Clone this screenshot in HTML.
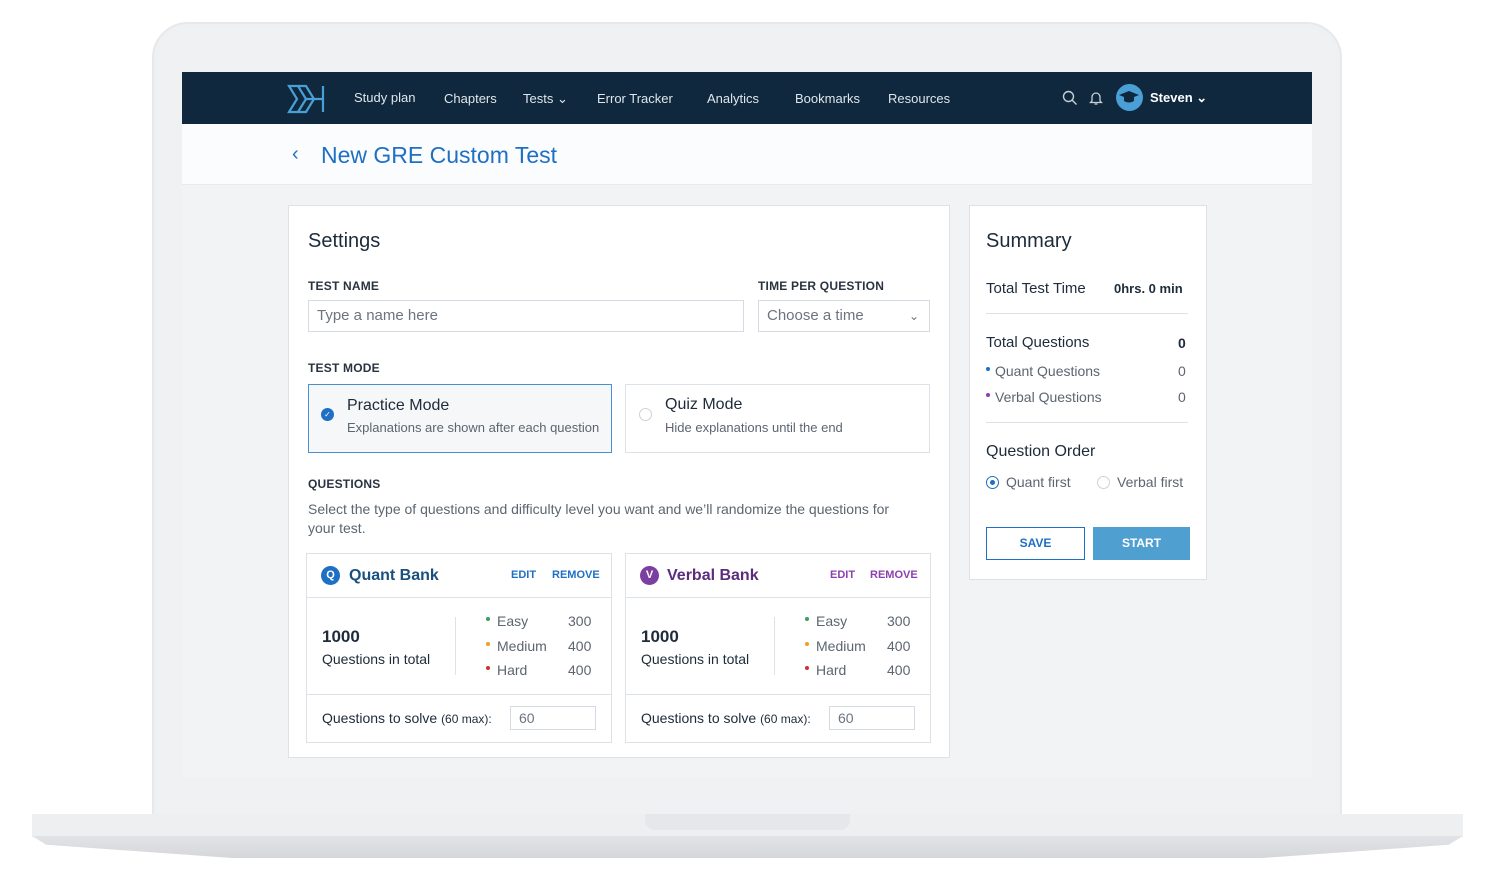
<!DOCTYPE html>
<html><head><meta charset="utf-8"><style>
*{margin:0;padding:0;box-sizing:border-box}
body{width:1500px;height:888px;background:#fff;position:relative;overflow:hidden;font-family:"Liberation Sans",sans-serif;color:#1d2b3a}
.a{position:absolute}
.lbl{font-size:12px;font-weight:bold;color:#2a3440;letter-spacing:.2px}
.inp{border:1px solid #d5dbe2;background:#fff;font-size:15px;color:#6b7480;padding-left:8px;line-height:30px}
.card{background:#fff;border:1px solid #dde2e8}
.gray{color:#5c6570}
.dot{display:inline-block;width:4px;height:4px;border-radius:50%;margin-right:7px;vertical-align:middle;position:relative;top:-3px}
</style></head><body>
<div class="a" style="left:152px;top:22px;width:1190px;height:800px;border-radius:36px 36px 0 0;background:#eef0f2;border:2px solid #e6e8eb"></div>
<div class="a" style="left:158px;top:28px;width:1178px;height:790px;border-radius:30px 30px 0 0;background:#f0f1f3"></div>
<div class="a" style="left:32px;top:814px;width:1431px;height:23px;background:#eeeff1"></div>
<div class="a" style="left:32px;top:836px;width:1431px;height:22px;background:linear-gradient(#e2e3e6,#d6d7da);clip-path:polygon(0 0,100% 0,99% 40%,86% 100%,14% 100%,1% 40%)"></div>
<div class="a" style="left:645px;top:814px;width:205px;height:16px;background:#e6e7ea;border-radius:0 0 10px 10px"></div>
<div class="a" style="left:182px;top:72px;width:1130px;height:705px;background:#f2f3f5"></div>
<div class="a" style="left:182px;top:72px;width:1130px;height:52px;background:#0f283d"></div>
<svg class="a" style="left:287px;top:84px" width="40" height="30" viewBox="0 0 40 30"><g fill="none" stroke="#4aa0d6" stroke-width="2.2"><path d="M2 2h9l8 13-8 13H2l8-13z"/><path d="M11 2h8l8 13-8 13h-8"/><path d="M19 15h17M36 2v26"/></g></svg>
<div class="a" style="left:354px;top:90px;font-size:13px;color:#dfe6ec">Study plan</div>
<div class="a" style="left:444px;top:91px;font-size:13px;color:#dfe6ec">Chapters</div>
<div class="a" style="left:523px;top:91px;font-size:13px;color:#dfe6ec">Tests &#8964;</div>
<div class="a" style="left:597px;top:91px;font-size:13px;color:#dfe6ec">Error Tracker</div>
<div class="a" style="left:707px;top:91px;font-size:13px;color:#dfe6ec">Analytics</div>
<div class="a" style="left:795px;top:91px;font-size:13px;color:#dfe6ec">Bookmarks</div>
<div class="a" style="left:888px;top:91px;font-size:13px;color:#dfe6ec">Resources</div>
<svg class="a" style="left:1062px;top:90px" width="16" height="16"><circle cx="6.5" cy="6.5" r="5" fill="none" stroke="#c6cfd7" stroke-width="1.4"/><path d="M10 10l4.5 4.5" stroke="#c6cfd7" stroke-width="1.4"/></svg>
<svg class="a" style="left:1089px;top:90px" width="14" height="16"><path d="M3 11V7a4 4 0 018 0v4l1.5 1.5h-11z" fill="none" stroke="#c6cfd7" stroke-width="1.3"/><path d="M5.5 14h3" stroke="#c6cfd7" stroke-width="1.3"/></svg>
<div class="a" style="left:1116px;top:84px;width:27px;height:27px;border-radius:50%;background:#4aa0d6"></div>
<svg class="a" style="left:1118px;top:89px" width="22" height="18"><path d="M1 6l10-4 10 4-10 4z" fill="#0f283d"/><path d="M6 8v4c3 2 7 2 10 0V8" fill="#0f283d"/></svg>
<div class="a" style="left:1150px;top:90px;font-size:13px;font-weight:bold;color:#fff">Steven &#8964;</div>
<div class="a" style="left:182px;top:124px;width:1130px;height:61px;background:#fbfcfd;border-bottom:1px solid #e8ebee"></div>
<div class="a" style="left:292px;top:143px;font-size:20px;color:#1f6fc4">&#8249;</div>
<div class="a" style="left:321px;top:142px;font-size:23px;color:#1f6fc4">New GRE Custom Test</div>
<div class="a card" style="left:288px;top:205px;width:662px;height:553px"></div>
<div class="a" style="left:308px;top:230px;font-size:20px">Settings</div>
<div class="a lbl" style="left:308px;top:279px">TEST NAME</div>
<div class="a inp" style="left:308px;top:300px;width:436px;height:32px">Type a name here</div>
<div class="a lbl" style="left:758px;top:279px">TIME PER QUESTION</div>
<div class="a inp" style="left:758px;top:300px;width:172px;height:32px">Choose a time<span style="position:absolute;right:10px;font-size:12px">&#8964;</span></div>
<div class="a lbl" style="left:308px;top:361px">TEST MODE</div>
<div class="a" style="left:308px;top:384px;width:304px;height:69px;border:1px solid #4a90d0;background:#f5f7f9"></div>
<div class="a" style="left:321px;top:408px;width:13px;height:13px;border-radius:50%;background:#1f6fc4;color:#fff;font-size:8px;text-align:center;line-height:13px">&#10003;</div>
<div class="a" style="left:347px;top:397px;font-size:16px">Practice Mode</div>
<div class="a gray" style="left:347px;top:420px;font-size:13px">Explanations are shown after each question</div>
<div class="a card" style="left:625px;top:384px;width:305px;height:69px"></div>
<div class="a" style="left:639px;top:408px;width:13px;height:13px;border-radius:50%;border:1px solid #ccd3da"></div>
<div class="a" style="left:665px;top:396px;font-size:16px">Quiz Mode</div>
<div class="a gray" style="left:665px;top:420px;font-size:13px">Hide explanations until the end</div>
<div class="a lbl" style="left:308px;top:477px">QUESTIONS</div>
<div class="a gray" style="left:308px;top:500px;width:605px;font-size:14px;line-height:19px">Select the type of questions and difficulty level you want and we’ll randomize the questions for your test.</div>
<div class="a card" style="left:306px;top:553px;width:306px;height:190px"></div>
<div class="a card" style="left:625px;top:553px;width:306px;height:190px"></div>
<div class="a" style="left:307px;top:597px;width:304px;height:1px;background:#dde2e8"></div>
<div class="a" style="left:626px;top:597px;width:304px;height:1px;background:#dde2e8"></div>
<div class="a" style="left:307px;top:694px;width:304px;height:1px;background:#dde2e8"></div>
<div class="a" style="left:626px;top:694px;width:304px;height:1px;background:#dde2e8"></div>
<div class="a" style="left:455px;top:617px;width:1px;height:58px;background:#dde2e8"></div>
<div class="a" style="left:774px;top:617px;width:1px;height:58px;background:#dde2e8"></div>
<div class="a" style="left:321px;top:566px;width:19px;height:19px;border-radius:50%;background:#1f6fc4;color:#fff;font-size:11px;font-weight:bold;text-align:center;line-height:19px">Q</div>
<div class="a" style="left:349px;top:567px;font-size:16px;font-weight:bold;color:#1b4f7e">Quant Bank</div>
<div class="a" style="left:511px;top:569px;font-size:11px;font-weight:bold;color:#1f6fc4">EDIT</div>
<div class="a" style="left:552px;top:569px;font-size:11px;font-weight:bold;color:#1f6fc4">REMOVE</div>
<div class="a" style="left:640px;top:566px;width:19px;height:19px;border-radius:50%;background:#7b3fa0;color:#fff;font-size:11px;font-weight:bold;text-align:center;line-height:19px">V</div>
<div class="a" style="left:667px;top:567px;font-size:16px;font-weight:bold;color:#5a2d7e">Verbal Bank</div>
<div class="a" style="left:830px;top:569px;font-size:11px;font-weight:bold;color:#8c3fb0">EDIT</div>
<div class="a" style="left:870px;top:569px;font-size:11px;font-weight:bold;color:#8c3fb0">REMOVE</div>
<div class="a" style="left:322px;top:627px;font-size:17px;font-weight:bold">1000</div>
<div class="a" style="left:322px;top:651px;font-size:14px">Questions in total</div>
<div class="a" style="left:641px;top:627px;font-size:17px;font-weight:bold">1000</div>
<div class="a" style="left:641px;top:651px;font-size:14px">Questions in total</div>
<div class="a gray" style="left:486px;top:609px;font-size:14px;line-height:24.5px"><span class="dot" style="background:#3aa05a"></span>Easy<br><span class="dot" style="background:#f0a020"></span>Medium<br><span class="dot" style="background:#d03030"></span>Hard</div>
<div class="a gray" style="left:568px;top:609px;font-size:14px;line-height:24.5px">300<br>400<br>400</div>
<div class="a gray" style="left:805px;top:609px;font-size:14px;line-height:24.5px"><span class="dot" style="background:#3aa05a"></span>Easy<br><span class="dot" style="background:#f0a020"></span>Medium<br><span class="dot" style="background:#d03030"></span>Hard</div>
<div class="a gray" style="left:887px;top:609px;font-size:14px;line-height:24.5px">300<br>400<br>400</div>
<div class="a" style="left:322px;top:710px;font-size:14px">Questions to solve <span style="font-size:12px">(60 max):</span></div>
<div class="a inp" style="left:510px;top:706px;width:86px;height:24px;line-height:22px;font-size:14px">60</div>
<div class="a" style="left:641px;top:710px;font-size:14px">Questions to solve <span style="font-size:12px">(60 max):</span></div>
<div class="a inp" style="left:829px;top:706px;width:86px;height:24px;line-height:22px;font-size:14px">60</div>
<div class="a card" style="left:969px;top:205px;width:238px;height:375px"></div>
<div class="a" style="left:986px;top:230px;font-size:20px">Summary</div>
<div class="a" style="left:986px;top:280px;font-size:15px">Total Test Time</div>
<div class="a" style="left:1114px;top:281px;font-size:13px;font-weight:bold">0hrs. 0 min</div>
<div class="a" style="left:986px;top:313px;width:202px;height:1px;background:#dde2e8"></div>
<div class="a" style="left:986px;top:334px;font-size:15px">Total Questions</div>
<div class="a" style="left:1178px;top:335px;font-size:14px;font-weight:bold">0</div>
<div class="a gray" style="left:986px;top:358px;font-size:14px;line-height:26px"><span class="dot" style="background:#1f6fc4;margin-right:5px"></span>Quant Questions<br><span class="dot" style="background:#8c3fb0;margin-right:5px"></span>Verbal Questions</div>
<div class="a gray" style="left:1178px;top:358px;font-size:14px;line-height:26px">0<br>0</div>
<div class="a" style="left:986px;top:422px;width:202px;height:1px;background:#dde2e8"></div>
<div class="a" style="left:986px;top:443px;font-size:16px">Question Order</div>
<div class="a" style="left:986px;top:476px;width:13px;height:13px;border-radius:50%;border:1.5px solid #1f6fc4"></div>
<div class="a" style="left:990px;top:480px;width:5px;height:5px;border-radius:50%;background:#1f6fc4"></div>
<div class="a gray" style="left:1006px;top:474px;font-size:14px">Quant first</div>
<div class="a" style="left:1097px;top:476px;width:13px;height:13px;border-radius:50%;border:1px solid #ccd3da"></div>
<div class="a gray" style="left:1117px;top:474px;font-size:14px">Verbal first</div>
<div class="a" style="left:986px;top:527px;width:99px;height:33px;border:1px solid #1f6fc4;color:#1f6fc4;font-size:12px;font-weight:bold;text-align:center;line-height:31px">SAVE</div>
<div class="a" style="left:1093px;top:527px;width:97px;height:33px;background:#4f9fd1;color:#fff;font-size:12px;font-weight:bold;text-align:center;line-height:33px">START</div>
</body></html>
